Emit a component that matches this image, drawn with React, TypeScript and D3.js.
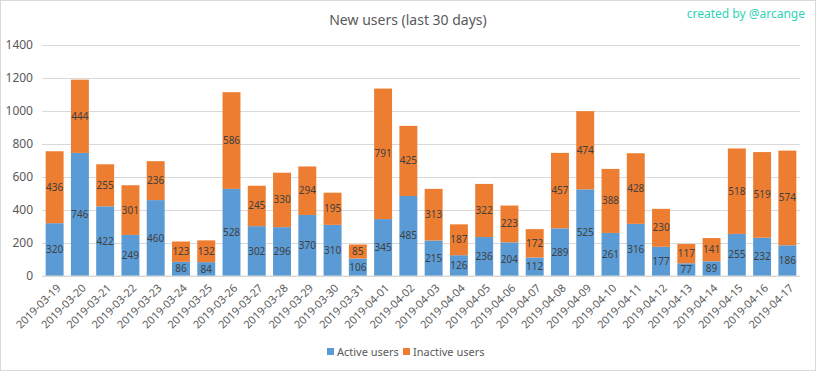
import React, { useRef, useEffect } from "react";
import * as d3 from "d3";

const dates = [
  "2019-03-19", "2019-03-20", "2019-03-21", "2019-03-22", "2019-03-23",
  "2019-03-24", "2019-03-25", "2019-03-26", "2019-03-27", "2019-03-28",
  "2019-03-29", "2019-03-30", "2019-03-31", "2019-04-01", "2019-04-02",
  "2019-04-03", "2019-04-04", "2019-04-05", "2019-04-06", "2019-04-07",
  "2019-04-08", "2019-04-09", "2019-04-10", "2019-04-11", "2019-04-12",
  "2019-04-13", "2019-04-14", "2019-04-15", "2019-04-16", "2019-04-17"
];

const activeUsers = [
  320, 746, 422, 249, 460, 86, 84, 528, 302, 296, 370, 310, 106, 345, 485,
  215, 126, 236, 204, 112, 289, 525, 261, 316, 177, 77, 89, 255, 232, 186
];

const inactiveUsers = [
  436, 444, 255, 301, 236, 123, 132, 586, 245, 330, 294, 195, 85, 791, 425,
  313, 187, 322, 223, 172, 457, 474, 388, 428, 230, 117, 141, 518, 519, 574
];

const yTicks = [0, 200, 400, 600, 800, 1000, 1200, 1400];

const seriesNames = ["Active users", "Inactive users"];
const colors = ["#5b9bd5", "#ed7d31"];

const w = 816,
  h = 371,
  margin = { top: 45, right: 16, bottom: 95, left: 42 };

function App() {
  const ref = useRef<SVGSVGElement>(null);

  useEffect(() => {
    const svg = d3.select(ref.current);
    svg.selectAll("*").remove();

    const font = "'Noto Sans', sans-serif";

    svg
      .append("rect")
      .attr("x", 0.5)
      .attr("y", 0.5)
      .attr("width", w - 1)
      .attr("height", h - 1)
      .attr("fill", "#fff")
      .attr("stroke", "#d9d9d9");

    const rows = dates.map((d, i) => ({
      date: d,
      active: activeUsers[i],
      inactive: inactiveUsers[i]
    }));

    const x = d3
      .scaleBand()
      .domain(dates)
      .range([margin.left, w - margin.right])
      .paddingInner(0.29)
      .paddingOuter(0.145);

    const y = d3
      .scaleLinear()
      .domain([0, 1400])
      .range([h - margin.bottom, margin.top]);

    // gridlines + y labels
    const yAxis = d3
      .axisLeft(y)
      .tickValues(yTicks)
      .tickFormat(d3.format("d"))
      .tickSize(-(w - margin.right - margin.left))
      .tickPadding(9);

    svg
      .append("g")
      .attr("transform", `translate(${margin.left},0)`)
      .call(yAxis)
      .call(g => g.select(".domain").remove())
      .call(g => g.selectAll(".tick line").attr("stroke", "#d9d9d9"))
      .call(g =>
        g
          .selectAll(".tick text")
          .attr("fill", "#595959")
          .attr("font-size", 12)
          .attr("font-family", font)
      );

    const stack = d3.stack<any>().keys(["active", "inactive"])(rows);

    svg
      .append("g")
      .selectAll("g")
      .data(stack)
      .enter()
      .append("g")
      .attr("fill", (d, i) => colors[i])
      .selectAll("rect")
      .data(d => d)
      .enter()
      .append("rect")
      .attr("x", d => x(d.data.date)!)
      .attr("y", d => y(d[1]))
      .attr("width", x.bandwidth())
      .attr("height", d => y(d[0]) - y(d[1]));

    // value labels
    svg
      .append("g")
      .selectAll("g")
      .data(stack)
      .enter()
      .append("g")
      .selectAll("text")
      .data(d => d)
      .enter()
      .append("text")
      .attr("x", d => x(d.data.date)! + x.bandwidth() / 2)
      .attr("y", d => y((d[0] + d[1]) / 2))
      .attr("dy", "0.35em")
      .attr("text-anchor", "middle")
      .attr("font-size", 10)
      .attr("font-family", font)
      .attr("fill", "#404040")
      .text(d => d[1] - d[0]);

    // baseline
    svg
      .append("line")
      .attr("x1", margin.left)
      .attr("x2", w - margin.right)
      .attr("y1", y(0))
      .attr("y2", y(0))
      .attr("stroke", "#d9d9d9");

    // x labels
    svg
      .append("g")
      .selectAll("text")
      .data(dates)
      .enter()
      .append("text")
      .attr(
        "transform",
        d => `translate(${x(d)! + x.bandwidth() / 2 + 4},${y(0) + 10}) rotate(-45)`
      )
      .attr("text-anchor", "end")
      .attr("dy", "0.35em")
      .attr("font-size", 11)
      .attr("font-family", font)
      .attr("fill", "#595959")
      .text(d => d);

    // title
    svg
      .append("text")
      .attr("x", 408)
      .attr("y", 25)
      .attr("text-anchor", "middle")
      .attr("font-size", 14)
      .attr("font-family", font)
      .attr("fill", "#595959")
      .text("New users (last 30 days)");

    svg
      .append("text")
      .attr("x", 805)
      .attr("y", 18)
      .attr("text-anchor", "end")
      .attr("font-size", 12)
      .attr("font-family", font)
      .attr("fill", "#2ed3b5")
      .text("created by @arcange");

    // legend
    const legend = svg.append("g").attr("transform", "translate(327,352)");
    const items = legend
      .selectAll("g")
      .data(seriesNames)
      .enter()
      .append("g")
      .attr("transform", (d, i) => `translate(${i * 76},0)`);
    items
      .append("rect")
      .attr("x", 0)
      .attr("y", -4)
      .attr("width", 7)
      .attr("height", 7)
      .attr("fill", (d, i) => colors[i]);
    items
      .append("text")
      .attr("x", 10)
      .attr("dy", "0.35em")
      .attr("font-size", 11)
      .attr("font-family", font)
      .attr("fill", "#595959")
      .text(d => d);
  }, []);

  return (
    <div className="App">
      <style>{`body{margin:0}`}</style>
      <svg ref={ref} width={w} height={h} style={{ display: "block" }}></svg>
    </div>
  );
}

export default App;
